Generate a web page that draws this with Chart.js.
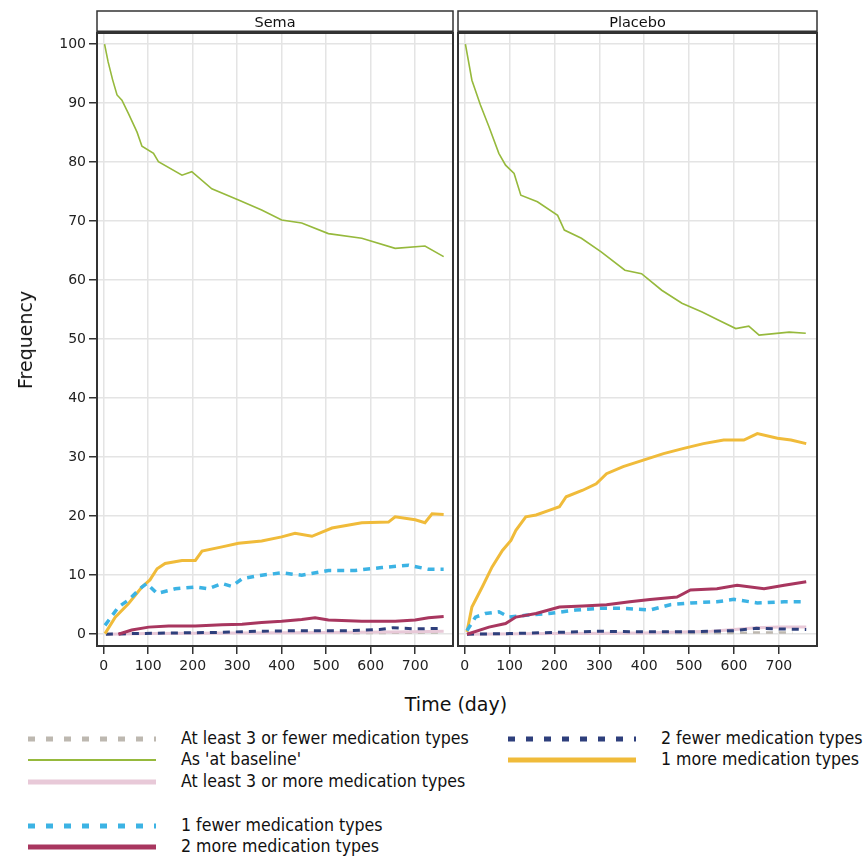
<!DOCTYPE html>
<html>
<head>
<meta charset="utf-8">
<script src="https://cdn.jsdelivr.net/npm/chart.js@4.4.1/dist/chart.umd.min.js"></script>
<style>
  body { margin: 0; background: #fff; width: 867px; height: 857px; position: relative; overflow: hidden; }
  canvas { position: absolute; top: 0; }
  #semaChart { left: 0; }
  #placeboChart { left: 456px; }
  .axisTitle { position: absolute; font-family: 'DejaVu Sans', sans-serif; font-size: 19px; color: #111; white-space: nowrap; }
  #yTitle { left: 25px; top: 340px; transform: translate(-50%, -50%) rotate(-90deg); }
  #xTitle { left: 456px; top: 704px; transform: translate(-50%, -50%); }
  .leg { position: absolute; font-family: 'Liberation Sans Narrow', 'DejaVu Sans Condensed', sans-serif; font-size: 17.6px; color: #111; white-space: nowrap; }
  .leg svg { position: absolute; left: 0; top: 0; }
  .leg span { position: absolute; top: -11px; }
</style>
</head>
<body>
<canvas id="semaChart" width="456" height="690"></canvas>
<canvas id="placeboChart" width="411" height="690"></canvas>
<div class="axisTitle" id="yTitle">Frequency</div>
<div class="axisTitle" id="xTitle">Time (day)</div>
<div id="legend"></div>
<script>
'use strict';

// panel names
const panels = ['Sema', 'Placebo'];

// series names, in legend order
const seriesNames = [
  'At least 3 or fewer medication types',
  'As \'at baseline\'',
  'At least 3 or more medication types',
  '1 fewer medication types',
  '2 more medication types',
  '2 fewer medication types',
  '1 more medication types',
];

// Sema panel (day, frequency)
const semaFewer3Days = [5, 200, 400, 600, 764];
const semaFewer3Vals = [0, 0.2, 0.3, 0.2, 0.3];
const semaBaseDays = [2, 10, 20, 30, 41, 56, 75, 86, 112, 123, 176, 198, 243, 303, 355, 400, 445, 505, 580, 655, 722, 764];
const semaBaseVals = [100, 97, 94, 91.4, 90.5, 88.2, 85.1, 82.7, 81.5, 80.1, 77.8, 78.4, 75.5, 73.6, 71.9, 70.2, 69.7, 67.9, 67.1, 65.4, 65.8, 64.0];
const semaMore3Days = [5, 100, 300, 500, 700, 764];
const semaMore3Vals = [0, 0.1, 0.2, 0.3, 0.4, 0.5];
const semaFewer1Days = [3, 33, 56, 86, 97, 120, 161, 206, 235, 266, 288, 311, 355, 400, 445, 505, 565, 625, 685, 730, 764];
const semaFewer1Vals = [1.5, 4.6, 5.8, 8.0, 8.6, 6.9, 7.7, 8.0, 7.7, 8.6, 8.1, 9.4, 10.0, 10.4, 10.0, 10.8, 10.8, 11.3, 11.7, 11.0, 11.0];
const semaMore2Days = [33, 63, 101, 146, 206, 266, 311, 355, 400, 445, 475, 505, 580, 655, 700, 730, 764];
const semaMore2Vals = [0, 0.7, 1.2, 1.4, 1.4, 1.6, 1.7, 2.0, 2.2, 2.5, 2.8, 2.4, 2.2, 2.2, 2.4, 2.8, 3.0];
const semaFewer2Days = [5, 60, 150, 250, 350, 450, 550, 620, 650, 700, 764];
const semaFewer2Vals = [0, 0.1, 0.2, 0.3, 0.5, 0.6, 0.6, 0.8, 1.1, 0.9, 1.0];
const semaMore1Days = [3, 26, 56, 86, 104, 120, 138, 176, 206, 221, 266, 303, 355, 400, 430, 468, 513, 580, 640, 655, 700, 722, 738, 764];
const semaMore1Vals = [0.1, 2.9, 5.2, 8.0, 9.2, 11.1, 12.0, 12.5, 12.5, 14.1, 14.8, 15.4, 15.8, 16.5, 17.1, 16.6, 18.0, 18.9, 19.0, 19.9, 19.4, 18.9, 20.4, 20.3];

// Placebo panel (day, frequency)
const placFewer3Days = [5, 200, 400, 600, 650, 700, 730];
const placFewer3Vals = [0, 0.1, 0.2, 0.2, 0.3, 0.3, 0.3];
const placBaseDays = [1.5, 16, 35, 54, 76, 91, 110, 125, 162, 207, 222, 260, 304, 357, 394, 439, 484, 529, 566, 604, 633, 656, 723, 760];
const placBaseVals = [100, 93.9, 89.7, 86, 81.5, 79.5, 78.1, 74.4, 73.3, 71.0, 68.5, 67.1, 64.8, 61.7, 61.1, 58.3, 56.1, 54.6, 53.2, 51.8, 52.2, 50.7, 51.2, 51.0];
const placMore3Days = [5, 200, 400, 550, 600, 650, 700, 761];
const placMore3Vals = [0, 0.1, 0.2, 0.5, 0.8, 1.1, 1.2, 1.2];
const placFewer1Days = [5, 24, 46, 76, 99, 136, 188, 248, 301, 353, 413, 458, 503, 562, 600, 652, 712, 761];
const placFewer1Vals = [0.6, 2.9, 3.5, 3.8, 2.9, 3.2, 3.5, 4.1, 4.4, 4.4, 4.1, 5.0, 5.3, 5.5, 5.9, 5.3, 5.5, 5.5];
const placMore2Days = [5, 54, 91, 114, 159, 211, 263, 316, 368, 413, 473, 503, 562, 607, 667, 712, 761];
const placMore2Vals = [0, 1.2, 1.8, 2.9, 3.5, 4.6, 4.8, 5.0, 5.5, 5.9, 6.3, 7.5, 7.7, 8.3, 7.7, 8.3, 8.9];
const placFewer2Days = [5, 100, 200, 300, 400, 500, 600, 650, 700, 761];
const placFewer2Vals = [0, 0.1, 0.3, 0.5, 0.4, 0.4, 0.6, 1.0, 0.9, 0.8];
const placMore1Days = [5, 16, 39, 61, 84, 103, 114, 136, 159, 188, 211, 226, 263, 293, 316, 353, 398, 443, 488, 532, 577, 622, 652, 697, 727, 761];
const placMore1Vals = [0.4, 4.6, 8.0, 11.4, 14.2, 15.9, 17.6, 19.9, 20.2, 21.0, 21.6, 23.3, 24.4, 25.5, 27.2, 28.4, 29.5, 30.6, 31.5, 32.3, 32.9, 32.9, 34.0, 33.2, 32.9, 32.3];

// axis ticks
const xTicks = [0, 100, 200, 300, 400, 500, 600, 700];
const yTicks = [0, 10, 20, 30, 40, 50, 60, 70, 80, 90, 100];

// styles per series (same order as seriesNames)
const styles = [
  { color: '#bdb8b0', width: 2.5, dash: [7, 6] },
  { color: '#96b93c', width: 1.6, dash: [] },
  { color: '#e8c9d8', width: 3, dash: [] },
  { color: '#3cb3e4', width: 3.5, dash: [7, 6] },
  { color: '#a8365f', width: 3, dash: [] },
  { color: '#2e3f7c', width: 3, dash: [7, 6] },
  { color: '#f0bb3a', width: 3, dash: [] },
];

const semaSeries = [
  [semaFewer3Days, semaFewer3Vals], [semaBaseDays, semaBaseVals], [semaMore3Days, semaMore3Vals],
  [semaFewer1Days, semaFewer1Vals], [semaMore2Days, semaMore2Vals], [semaFewer2Days, semaFewer2Vals],
  [semaMore1Days, semaMore1Vals],
];
const placSeries = [
  [placFewer3Days, placFewer3Vals], [placBaseDays, placBaseVals], [placMore3Days, placMore3Vals],
  [placFewer1Days, placFewer1Vals], [placMore2Days, placMore2Vals], [placFewer2Days, placFewer2Vals],
  [placMore1Days, placMore1Vals],
];

// drawing order bottom -> top
const drawOrder = [0, 1, 2, 5, 6, 3, 4];

function makeDatasets(series){
  return seriesNames.map((name, i) => {
    const days = series[i][0];
    const vals = series[i][1];
    return {
      label: name,
      data: days.map((d, k) => ({ x: d, y: vals[k] })),
      borderColor: styles[i].color,
      borderWidth: styles[i].width,
      borderDash: styles[i].dash,
      pointRadius: 0,
      fill: false,
      tension: 0,
      order: 10 - drawOrder.indexOf(i),
    };
  });
}

// panel frame + header strip
const panelBox = {
  id: 'panelBox',
  afterDraw(chart, args, opts){
    const ctx = chart.ctx;
    const a = chart.chartArea;
    ctx.save();
    ctx.strokeStyle = '#333';
    ctx.lineWidth = 2;
    ctx.strokeRect(a.left, a.top, a.right - a.left, a.bottom - a.top);
    ctx.lineWidth = 1.5;
    ctx.strokeRect(a.left, 11, a.right - a.left, a.top - 11);
    ctx.lineWidth = 3;
    ctx.beginPath();
    ctx.moveTo(a.left, a.top - 1);
    ctx.lineTo(a.right, a.top - 1);
    ctx.stroke();
    ctx.fillStyle = '#111';
    ctx.font = '14.5px "DejaVu Sans"';
    ctx.textAlign = 'center';
    ctx.textBaseline = 'middle';
    ctx.fillText(opts.label, (a.left + a.right) / 2, (11 + a.top) / 2 + 1);
    ctx.restore();
  }
};

function makeChart(id, series, label, showY){
  const ctx = document.getElementById(id).getContext('2d');
  return new Chart(ctx, {
    type: 'line',
    data: { datasets: makeDatasets(series) },
    plugins: [panelBox],
    options: {
      responsive: false,
      animation: false,
      layout: { padding: { top: 33, right: showY ? 3 : 50, left: showY ? 0 : 2, bottom: 0 } },
      plugins: {
        legend: { display: false },
        tooltip: { enabled: false },
        panelBox: { label: label },
      },
      scales: {
        x: {
          type: 'linear',
          min: -15,
          max: 785,
          afterFit: (s) => { s.height = 44; },
          afterBuildTicks: (s) => { s.ticks = xTicks.map(v => ({ value: v })); },
          ticks: { color: '#222', font: { family: 'DejaVu Sans', size: 14 }, padding: 4, maxRotation: 0 },
          grid: { color: '#e4e4e4', lineWidth: 1.5, tickColor: '#333', tickLength: 8, tickWidth: 1.5 },
          border: { display: false },
        },
        y: {
          min: -2,
          max: 101.9,
          afterFit: (s) => { s.width = showY ? 97 : 0; },
          afterBuildTicks: (s) => { s.ticks = yTicks.map(v => ({ value: v })); },
          ticks: { display: showY, color: '#222', font: { family: 'DejaVu Sans', size: 14 }, padding: 3 },
          grid: { color: '#e4e4e4', lineWidth: 1.5, tickColor: '#333', tickLength: 8, tickWidth: 1.5, drawTicks: showY },
          border: { display: false },
        },
      },
    },
  });
}

makeChart('semaChart', semaSeries, panels[0], true);
makeChart('placeboChart', placSeries, panels[1], false);

// legend below the panels
const legendSlots = [
  { x: 28, y: 739 }, { x: 28, y: 760 }, { x: 28, y: 782 },
  { x: 28, y: 826 }, { x: 28, y: 847 },
  { x: 508, y: 739 }, { x: 508, y: 760 },
];
const legendEl = document.getElementById('legend');
seriesNames.forEach((name, i) => {
  const st = styles[i];
  const slot = legendSlots[i];
  const dashed = st.dash.length > 0;
  const w = dashed ? 5 : (i === 1 ? 2 : 5);
  const div = document.createElement('div');
  div.className = 'leg';
  div.style.left = slot.x + 'px';
  div.style.top = slot.y + 'px';
  div.innerHTML =
    `<svg width="130" height="10" style="top:-5px"><line x1="0" y1="5" x2="128" y2="5" stroke="${st.color}" stroke-width="${w}"` +
    (dashed ? ` stroke-dasharray="7 11"` : '') + `/></svg><span style="left:153px">${name}</span>`;
  legendEl.appendChild(div);
});
</script>
</body>
</html>
